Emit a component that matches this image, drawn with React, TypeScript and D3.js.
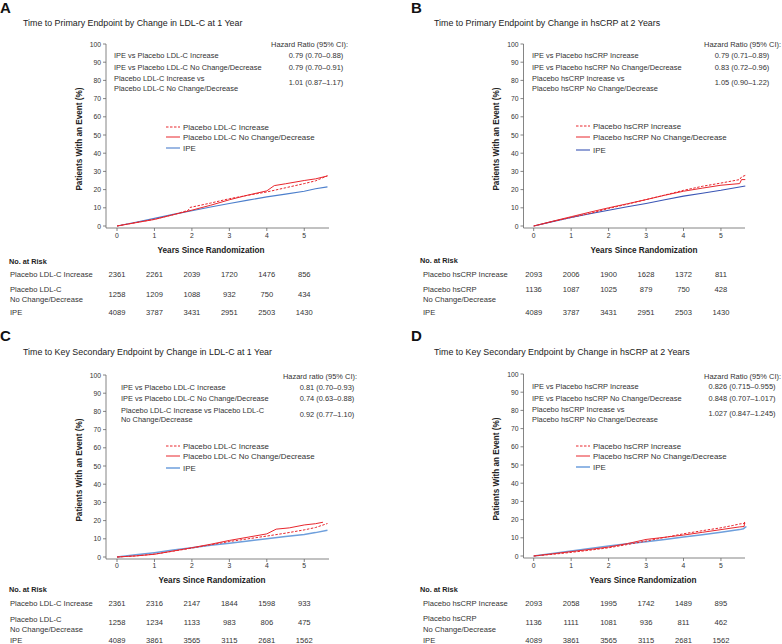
import React from 'react';
import * as d3 from 'd3';

// ---- data ----
const yearTicks = [0, 1, 2, 3, 4, 5];
const pctTicks = [0, 10, 20, 30, 40, 50, 60, 70, 80, 90, 100];

// A: primary endpoint by LDL-C change at 1 year  [year, % with event]
const aIncrease = [[0, 0], [0.5, 1.9], [1, 3.7], [1.5, 6.2], [1.9, 8.6], [1.95, 10.2], [2.5, 12.6], [3, 15.0], [3.5, 16.9], [4, 18.7], [4.5, 21.0], [5, 23.3], [5.3, 24.8], [5.62, 27.6]];
const aNoChange = [[0, 0], [0.5, 1.8], [1, 3.6], [1.5, 6.2], [2, 8.7], [2.5, 11.4], [3, 14.4], [3.5, 17.0], [4, 19.3], [4.2, 22.2], [4.5, 23.2], [5, 25.0], [5.3, 25.9], [5.62, 27.5]];
const aIPE = [[0, 0], [0.5, 2.1], [1, 4.2], [1.5, 6.4], [2, 8.4], [2.5, 10.4], [3, 12.4], [3.5, 14.2], [4, 16.0], [4.5, 17.5], [5, 19.1], [5.3, 20.5], [5.62, 21.5]];

// B: primary endpoint by hsCRP change at 2 years
const bIncrease = [[0, 0], [0.5, 2.4], [1, 4.7], [1.5, 6.9], [2, 9.6], [2.5, 12.0], [3, 14.5], [3.5, 17.0], [4, 19.6], [4.5, 21.8], [5, 23.6], [5.5, 25.5], [5.55, 27.0], [5.65, 27.8]];
const bNoChange = [[0, 0], [0.5, 2.6], [1, 5.1], [1.5, 7.6], [2, 10.0], [2.5, 12.2], [3, 14.5], [3.5, 16.9], [4, 19.1], [4.5, 20.8], [5, 22.4], [5.5, 23.3], [5.55, 25.5], [5.65, 25.5]];
const bIPE = [[0, 0], [0.5, 2.4], [1, 4.7], [1.5, 6.7], [2, 8.7], [2.5, 10.6], [3, 12.4], [3.5, 14.4], [4, 16.4], [4.5, 18.0], [5, 19.6], [5.65, 22.0]];

// C: key secondary endpoint by LDL-C change at 1 year
const cIncrease = [[0, 0], [0.5, 0.6], [1, 1.6], [1.5, 3.2], [2, 4.9], [2.5, 6.7], [3, 8.5], [3.5, 10.0], [4, 11.5], [4.5, 13.1], [5, 14.9], [5.3, 16.2], [5.62, 18.4]];
const cNoChange = [[0, 0], [0.5, 0.6], [1, 1.5], [1.5, 3.3], [2, 5.1], [2.5, 7.0], [3, 9.1], [3.5, 10.9], [4, 12.7], [4.25, 15.3], [4.6, 16.0], [5, 17.6], [5.3, 18.3], [5.5, 19.1]];
const cIPE = [[0, 0], [0.5, 1.2], [1, 2.4], [1.5, 3.8], [2, 5.1], [2.5, 6.4], [3, 7.6], [3.5, 8.8], [4, 10.0], [4.5, 11.2], [5, 12.4], [5.3, 13.4], [5.62, 14.7]];

// D: key secondary endpoint by hsCRP change at 2 years
const dIncrease = [[0, 0], [0.5, 0.9], [1, 2.0], [1.5, 3.2], [2, 4.5], [2.5, 6.3], [3, 8.2], [3.5, 10.2], [4, 12.2], [4.5, 13.9], [5, 15.5], [5.3, 16.7], [5.5, 17.6], [5.65, 18.0]];
const dNoChange = [[0, 0], [0.5, 1.2], [1, 2.4], [1.5, 3.6], [2, 4.9], [2.5, 6.8], [3, 9.1], [3.5, 10.3], [4, 11.5], [4.5, 13.0], [5, 14.5], [5.5, 16.0], [5.62, 16.2], [5.63, 18.7]];
const dIPE = [[0, 0], [0.5, 1.4], [1, 2.7], [1.5, 4.1], [2, 5.5], [2.5, 6.7], [3, 7.8], [3.5, 9.1], [4, 10.4], [4.5, 11.7], [5, 13.1], [5.5, 14.5], [5.6, 15.0], [5.68, 16.2]];

// numbers at risk
const riskAInc = [2361, 2261, 2039, 1720, 1476, 856];
const riskANoc = [1258, 1209, 1088, 932, 750, 434];
const riskAIpe = [4089, 3787, 3431, 2951, 2503, 1430];
const riskBInc = [2093, 2006, 1900, 1628, 1372, 811];
const riskBNoc = [1136, 1087, 1025, 879, 750, 428];
const riskBIpe = [4089, 3787, 3431, 2951, 2503, 1430];
const riskCInc = [2361, 2316, 2147, 1844, 1598, 933];
const riskCNoc = [1258, 1234, 1133, 983, 806, 475];
const riskCIpe = [4089, 3861, 3565, 3115, 2681, 1562];
const riskDInc = [2093, 2058, 1995, 1742, 1489, 895];
const riskDNoc = [1136, 1111, 1081, 936, 811, 462];
const riskDIpe = [4089, 3861, 3565, 3115, 2681, 1562];

// hazard ratio text
const hrA = ['0.79 (0.70\u20130.88)', '0.79 (0.70\u20130.91)', '1.01 (0.87\u20131.17)'];
const hrB = ['0.79 (0.71\u20130.89)', '0.83 (0.72\u20130.96)', '1.05 (0.90\u20131.22)'];
const hrC = ['0.81 (0.70\u20130.93)', '0.74 (0.63\u20130.88)', '0.92 (0.77\u20131.10)'];
const hrD = ['0.826 (0.715\u20130.955)', '0.848 (0.707\u20131.017)', '1.027 (0.847\u20131.245)'];

const RED = '#e8262d';
const FONT = '"Liberation Sans", Arial, Helvetica, sans-serif';
const TXT = '#333';

const panels = [
  {
    letter: 'A', letterX: 0, letterY: 7,
    title: 'Time to Primary Endpoint by Change in LDL-C at 1 Year', titleX: 23, titleY: 23,
    axisX: 106, x0: 117, top: 44, bottom: 226, xEnd: 329,
    hrHeader: 'Hazard Ratio (95% CI):', hrHeaderX: 348, hrHeaderY: 44,
    hrLabelX: 114, hrValueX: 316,
    hrRows: [
      { lines: ['IPE vs Placebo LDL-C Increase'], ys: [55], vy: 55 },
      { lines: ['IPE vs Placebo LDL-C No Change/Decrease'], ys: [67], vy: 67 },
      { lines: ['Placebo LDL-C Increase vs', 'Placebo LDL-C No Change/Decrease'], ys: [78, 88], vy: 82 },
    ],
    hr: hrA,
    legX: 166, legY: [127, 137, 148],
    legLabels: ['Placebo LDL-C Increase', 'Placebo LDL-C No Change/Decrease', 'IPE'],
    inc: aIncrease, noc: aNoChange, ipe: aIPE, ipeColor: '#4c7fcc', ipeW: 1.1,
    tickY: 235, xTitleX: 211, xTitleY: 250,
    riskHdrX: 9, riskHdrY: 261, riskLabelX: 10,
    riskRows: [
      { lines: ['Placebo LDL-C Increase'], ys: [274], vy: 274, vals: riskAInc },
      { lines: ['Placebo LDL-C', 'No Change/Decrease'], ys: [289, 299], vy: 294, vals: riskANoc },
      { lines: ['IPE'], ys: [312], vy: 312, vals: riskAIpe },
    ],
  },
  {
    letter: 'B', letterX: 411, letterY: 7,
    title: 'Time to Primary Endpoint by Change in hsCRP at 2 Years', titleX: 434, titleY: 23,
    axisX: 523.5, x0: 533.7, top: 44, bottom: 226, xEnd: 745,
    hrHeader: 'Hazard Ratio (95% CI):', hrHeaderX: 781, hrHeaderY: 44,
    hrLabelX: 532, hrValueX: 742,
    hrRows: [
      { lines: ['IPE vs Placebo hsCRP Increase'], ys: [55], vy: 55 },
      { lines: ['IPE vs Placebo hsCRP No Change/Decrease'], ys: [67], vy: 67 },
      { lines: ['Placebo hsCRP Increase vs', 'Placebo hsCRP No Change/Decrease'], ys: [78, 88], vy: 82 },
    ],
    hr: hrB,
    legX: 576, legY: [126, 137, 150],
    legLabels: ['Placebo hsCRP Increase', 'Placebo hsCRP No Change/Decrease', 'IPE'],
    inc: bIncrease, noc: bNoChange, ipe: bIPE, ipeColor: '#3a55b5', ipeW: 1.1,
    tickY: 235, xTitleX: 644, xTitleY: 250,
    riskHdrX: 420, riskHdrY: 260, riskLabelX: 423,
    riskRows: [
      { lines: ['Placebo hsCRP Increase'], ys: [274], vy: 274, vals: riskBInc },
      { lines: ['Placebo hsCRP', 'No Change/Decrease'], ys: [289, 299], vy: 289, vals: riskBNoc },
      { lines: ['IPE'], ys: [312], vy: 312, vals: riskBIpe },
    ],
  },
  {
    letter: 'C', letterX: 0, letterY: 335,
    title: 'Time to Key Secondary Endpoint by Change in LDL-C at 1 Year', titleX: 23, titleY: 352,
    axisX: 106, x0: 117, top: 375, bottom: 557, xEnd: 329,
    hrHeader: 'Hazard ratio (95% CI):', hrHeaderX: 357, hrHeaderY: 376,
    hrLabelX: 121, hrValueX: 327,
    hrRows: [
      { lines: ['IPE vs Placebo LDL-C Increase'], ys: [387], vy: 387 },
      { lines: ['IPE vs Placebo LDL-C No Change/Decrease'], ys: [398], vy: 398 },
      { lines: ['Placebo LDL-C Increase vs Placebo LDL-C', 'No Change/Decrease'], ys: [410, 419], vy: 414 },
    ],
    hr: hrC,
    legX: 166, legY: [446, 456, 468],
    legLabels: ['Placebo LDL-C Increase', 'Placebo LDL-C No Change/Decrease', 'IPE'],
    inc: cIncrease, noc: cNoChange, ipe: cIPE, ipeColor: '#6e9fdc', ipeW: 1.5,
    tickY: 565, xTitleX: 212, xTitleY: 580,
    riskHdrX: 9, riskHdrY: 589, riskLabelX: 10,
    riskRows: [
      { lines: ['Placebo LDL-C Increase'], ys: [603], vy: 603, vals: riskCInc },
      { lines: ['Placebo LDL-C', 'No Change/Decrease'], ys: [619, 629], vy: 622, vals: riskCNoc },
      { lines: ['IPE'], ys: [640], vy: 640, vals: riskCIpe },
    ],
  },
  {
    letter: 'D', letterX: 411, letterY: 335,
    title: 'Time to Key Secondary Endpoint by Change in hsCRP at 2 Years', titleX: 434, titleY: 352,
    axisX: 523.5, x0: 533.7, top: 374, bottom: 556, xEnd: 745,
    hrHeader: 'Hazard Ratio (95% CI):', hrHeaderX: 781, hrHeaderY: 376,
    hrLabelX: 532, hrValueX: 742,
    hrRows: [
      { lines: ['IPE vs Placebo hsCRP Increase'], ys: [386], vy: 386 },
      { lines: ['IPE vs Placebo hsCRP No Change/Decrease'], ys: [398], vy: 398 },
      { lines: ['Placebo hsCRP Increase vs', 'Placebo hsCRP No Change/Decrease'], ys: [409, 419], vy: 413 },
    ],
    hr: hrD,
    legX: 576, legY: [446, 456, 467],
    legLabels: ['Placebo hsCRP Increase', 'Placebo hsCRP No Change/Decrease', 'IPE'],
    inc: dIncrease, noc: dNoChange, ipe: dIPE, ipeColor: '#6e9fdc', ipeW: 1.5,
    tickY: 565, xTitleX: 643, xTitleY: 580,
    riskHdrX: 420, riskHdrY: 589, riskLabelX: 423,
    riskRows: [
      { lines: ['Placebo hsCRP Increase'], ys: [603], vy: 603, vals: riskDInc },
      { lines: ['Placebo hsCRP', 'No Change/Decrease'], ys: [618, 629], vy: 622, vals: riskDNoc },
      { lines: ['IPE'], ys: [640], vy: 640, vals: riskDIpe },
    ],
  },
];

const Panel = ({ p }: { p: any }) => {
  const x = d3.scaleLinear().domain([0, 5]).range([p.x0, p.x0 + 5 * 37.45]);
  const y = d3.scaleLinear().domain([0, 100]).range([p.bottom, p.top]);
  const line = d3.line<number[]>().x(d => x(d[0])).y(d => y(d[1]));
  const axisY = p.bottom + 2;

  return (
    <g fontFamily={FONT}>
      <text x={p.letterX} y={p.letterY} dominantBaseline="central" fontSize={15} fontWeight="bold" fill="#111">{p.letter}</text>
      <text x={p.titleX} y={p.titleY} dominantBaseline="central" fontSize={8.85} fill="#222">{p.title}</text>

      {/* y axis */}
      <line x1={p.axisX} x2={p.axisX} y1={y(100)} y2={axisY} stroke="#666" strokeWidth={0.8} />
      {pctTicks.map(t => (
        <g key={'yt' + t}>
          <line x1={p.axisX - 3} x2={p.axisX} y1={y(t)} y2={y(t)} stroke="#666" strokeWidth={0.8} />
          <text x={p.axisX - 5} y={y(t)} dominantBaseline="central" textAnchor="end" fontSize={6.8} fill={TXT}>{t}</text>
        </g>
      ))}
      <text transform={`translate(${p.axisX - 27},${(p.top + p.bottom) / 2 + 4}) rotate(-90)`} textAnchor="middle"
        dominantBaseline="central" fontSize={8.2} fontWeight="bold" fill="#222">Patients With an Event (%)</text>

      {/* x axis */}
      <line x1={p.axisX} x2={p.xEnd} y1={axisY} y2={axisY} stroke="#666" strokeWidth={0.8} />
      {yearTicks.map(t => (
        <g key={'xt' + t}>
          <line x1={x(t)} x2={x(t)} y1={axisY} y2={axisY + 3} stroke="#666" strokeWidth={0.8} />
          <text x={x(t)} y={p.tickY} dominantBaseline="central" textAnchor="middle" fontSize={6.8} fill={TXT}>{t}</text>
        </g>
      ))}
      <text x={p.xTitleX} y={p.xTitleY} dominantBaseline="central" textAnchor="middle" fontSize={8.2} fontWeight="bold" fill="#222">Years Since Randomization</text>

      {/* curves */}
      <path d={line(p.ipe) || ''} fill="none" stroke={p.ipeColor} strokeWidth={p.ipeW} />
      <path d={line(p.noc) || ''} fill="none" stroke={RED} strokeWidth={1} />
      <path d={line(p.inc) || ''} fill="none" stroke={RED} strokeWidth={1} strokeDasharray="2.5,1.5" />

      {/* hazard ratios */}
      <text x={p.hrHeaderX} y={p.hrHeaderY} dominantBaseline="central" textAnchor="end" fontSize={7.45} fill={TXT}>{p.hrHeader}</text>
      {p.hrRows.map((r: any, i: number) => (
        <g key={'hr' + i}>
          {r.lines.map((l: string, j: number) => (
            <text key={j} x={p.hrLabelX} y={r.ys[j]} dominantBaseline="central" fontSize={7.45} fill={TXT}>{l}</text>
          ))}
          <text x={p.hrValueX} y={r.vy} dominantBaseline="central" textAnchor="middle" fontSize={7.45} fill={TXT}>{p.hr[i]}</text>
        </g>
      ))}

      {/* legend */}
      {p.legLabels.map((l: string, i: number) => (
        <g key={'lg' + i}>
          <line x1={p.legX} x2={p.legX + 14} y1={p.legY[i]} y2={p.legY[i]}
            stroke={i === 2 ? p.ipeColor : RED} strokeWidth={i === 2 ? p.ipeW : 1}
            strokeDasharray={i === 0 ? '2.5,1.5' : undefined} />
          <text x={p.legX + 17} y={p.legY[i]} dominantBaseline="central" fontSize={7.9} fill={TXT}>{l}</text>
        </g>
      ))}

      {/* numbers at risk */}
      <text x={p.riskHdrX} y={p.riskHdrY} dominantBaseline="central" fontSize={7.3} fontWeight="bold" fill="#222">No. at Risk</text>
      {p.riskRows.map((r: any, i: number) => (
        <g key={'rk' + i}>
          {r.lines.map((l: string, j: number) => (
            <text key={j} x={p.riskLabelX} y={r.ys[j]} dominantBaseline="central" fontSize={7.6} fill={TXT}>{l}</text>
          ))}
          {r.vals.map((v: number, j: number) => (
            <text key={'v' + j} x={x(yearTicks[j])} y={r.vy} dominantBaseline="central" textAnchor="middle" fontSize={7.6} fill={TXT}>{v}</text>
          ))}
        </g>
      ))}
    </g>
  );
};

export default function App() {
  return (
    <svg width={782} height={644} style={{ position: 'absolute', left: 0, top: 0, background: '#fff' }}>
      <rect width={782} height={644} fill="#fff" />
      {panels.map(p => <Panel key={p.letter} p={p} />)}
    </svg>
  );
}
